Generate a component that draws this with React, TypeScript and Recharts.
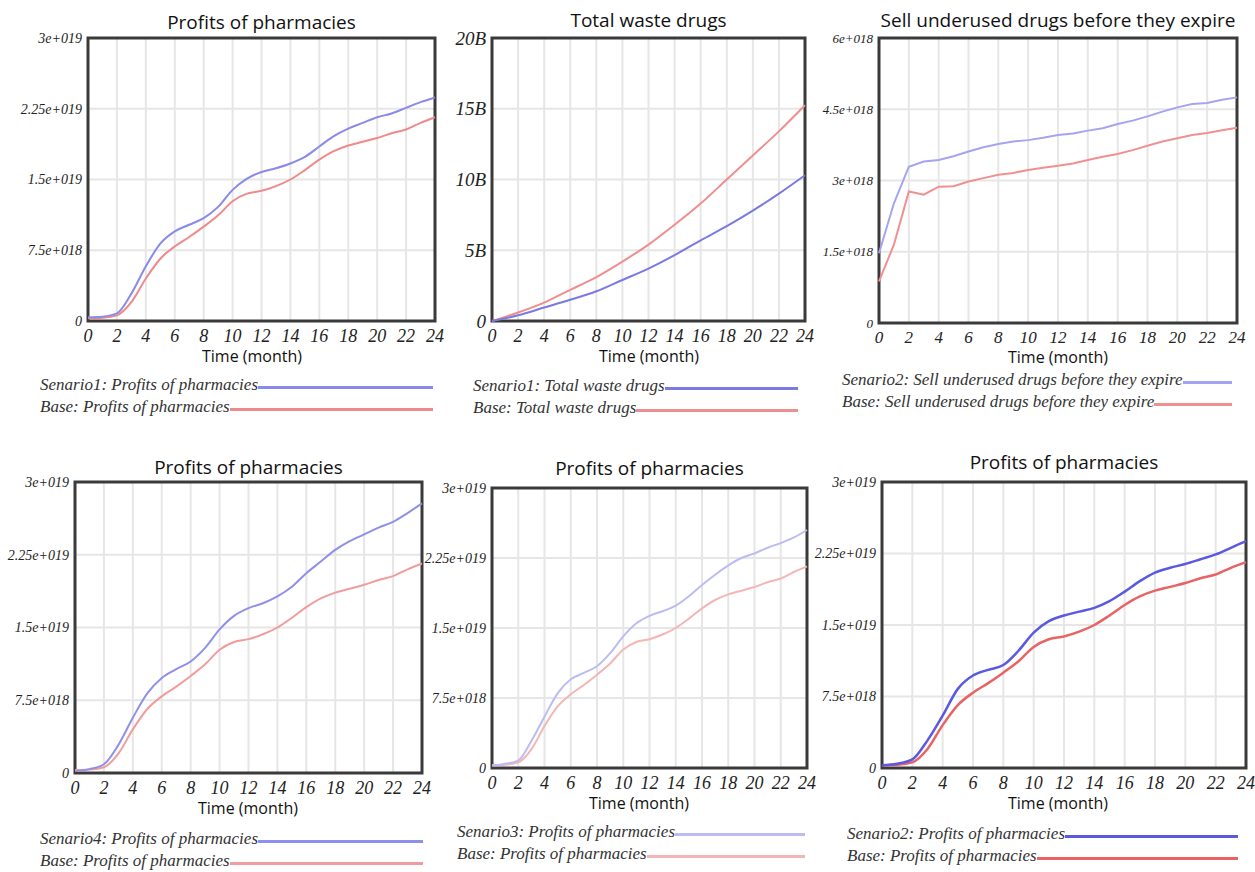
import React from "react"
import {
  LineChart,
  Line,
  XAxis,
  YAxis,
  CartesianGrid,
  ReferenceArea,
} from "recharts"

// time axis (months)
const months = [0, 1, 2, 3, 4, 5, 6, 7, 8, 9, 10, 11, 12, 13, 14, 15, 16, 17, 18, 19, 20, 21, 22, 23, 24]
const wasteMonths = [0, 2, 4, 6, 8, 10, 12, 14, 16, 18, 20, 22, 24]
const monthTicks = [0, 2, 4, 6, 8, 10, 12, 14, 16, 18, 20, 22, 24]

// profits of pharmacies, in units of 1e18
const baseProfits = [0.3, 0.35, 0.6, 2.0, 4.5, 6.6, 7.9, 8.9, 10.0, 11.2, 12.7, 13.5, 13.8, 14.3, 15.0, 16.0, 17.1, 18.0, 18.6, 19.0, 19.4, 19.9, 20.3, 21.0, 21.6]
const scenario1Profits = [0.4, 0.46, 0.8, 2.9, 5.8, 8.2, 9.5, 10.2, 10.9, 12.1, 13.9, 15.1, 15.8, 16.2, 16.7, 17.4, 18.5, 19.6, 20.4, 21.0, 21.6, 22.0, 22.6, 23.2, 23.7]
const scenario2Profits = [0.3, 0.45, 0.9, 2.9, 5.5, 8.3, 9.7, 10.3, 10.8, 12.3, 14.2, 15.4, 16.0, 16.4, 16.8, 17.5, 18.5, 19.6, 20.5, 21.0, 21.4, 21.9, 22.4, 23.1, 23.8]
const scenario3Profits = [0.25, 0.45, 0.8, 2.9, 5.5, 8.0, 9.5, 10.2, 10.9, 12.3, 14.1, 15.5, 16.3, 16.8, 17.4, 18.4, 19.6, 20.7, 21.7, 22.5, 23.0, 23.6, 24.1, 24.7, 25.5]
const scenario4Profits = [0.2, 0.4, 0.9, 2.9, 5.7, 8.2, 9.8, 10.7, 11.5, 12.9, 14.8, 16.2, 17.0, 17.5, 18.2, 19.2, 20.6, 21.8, 23.0, 23.9, 24.6, 25.3, 25.9, 26.8, 27.8]

// total waste drugs, in billions
const baseWaste = [0, 0.6, 1.3, 2.2, 3.1, 4.2, 5.4, 6.8, 8.3, 10.0, 11.7, 13.4, 15.25]
const scenario1Waste = [0, 0.4, 0.95, 1.5, 2.1, 2.9, 3.7, 4.65, 5.7, 6.7, 7.8, 9.0, 10.3]

// sell underused drugs before they expire, in units of 1e18
const baseSell = [0.875, 1.65, 2.77, 2.7, 2.87, 2.88, 2.98, 3.05, 3.12, 3.16, 3.22, 3.27, 3.31, 3.36, 3.43, 3.5, 3.56, 3.64, 3.73, 3.82, 3.89, 3.96, 4.0, 4.06, 4.11]
const scenario2Sell = [1.47, 2.52, 3.29, 3.4, 3.43, 3.51, 3.61, 3.7, 3.77, 3.82, 3.85, 3.9, 3.96, 3.99, 4.05, 4.1, 4.19, 4.26, 4.35, 4.45, 4.54, 4.61, 4.63, 4.7, 4.75]

const profitTicks = [0, 7.5, 15, 22.5, 30]
const wasteTicks = [0, 5, 10, 15, 20]
const sellTicks = [0, 1.5, 3, 4.5, 6]

const expFmt = (v: number) => {
  if (v === 0) return "0"
  return (v * 1e18).toExponential().replace(/e([+-])(\d+)$/, (_m, s, d) => `e${s}${d.padStart(3, "0")}`)
}
const billionFmt = (v: number) => (v === 0 ? "0" : `${v}B`)

const build = (xs: number[], a: number[], b: number[]) =>
  xs.map((t, i) => ({ t, scenario: a[i], base: b[i] }))

interface Panel {
  title: string
  data: { t: number; scenario: number; base: number }[]
  yTicks: number[]
  fmt: (v: number) => string
  scenarioName: string
  baseName: string
  blue: string
  red: string
  lineType: "monotone" | "linear"
  plot: { x0: number; y0: number; x1: number; y1: number }
  titleY: number
  timeX: number
  timeY: number
  legendX: number
  legendY: number
  legendEnd: number
  yFont: number
  xFont: number
  strokeW: number
}

const panels: Panel[] = [
  {
    title: "Profits of pharmacies",
    data: build(months, scenario1Profits, baseProfits),
    yTicks: profitTicks, fmt: expFmt,
    scenarioName: "Senario1: Profits of pharmacies", baseName: "Base: Profits of pharmacies",
    blue: "#8a8ae8", red: "#ee8a8a", lineType: "monotone",
    plot: { x0: 88, y0: 38, x1: 435, y1: 321 },
    titleY: 22, timeX: 252, timeY: 356,
    legendX: 40, legendY: 386, legendEnd: 433, yFont: 14, xFont: 18, strokeW: 2,
  },
  {
    title: "Total waste drugs",
    data: build(wasteMonths, scenario1Waste, baseWaste),
    yTicks: wasteTicks, fmt: billionFmt,
    scenarioName: "Senario1: Total waste drugs", baseName: "Base: Total waste drugs",
    blue: "#7a7ae2", red: "#ef8e8e", lineType: "monotone",
    plot: { x0: 492, y0: 38, x1: 805, y1: 321 },
    titleY: 20, timeX: 649, timeY: 356,
    legendX: 473, legendY: 387, legendEnd: 798, yFont: 19, xFont: 18, strokeW: 2,
  },
  {
    title: "Sell underused drugs before they expire",
    data: build(months, scenario2Sell, baseSell),
    yTicks: sellTicks, fmt: expFmt,
    scenarioName: "Senario2: Sell underused drugs before they expire", baseName: "Base: Sell underused drugs before they expire",
    blue: "#a4a4f0", red: "#f09090", lineType: "linear",
    plot: { x0: 879, y0: 38, x1: 1237, y1: 323 },
    titleY: 20, timeX: 1058, timeY: 357,
    legendX: 842, legendY: 381, legendEnd: 1232, yFont: 13, xFont: 17, strokeW: 2,
  },
  {
    title: "Profits of pharmacies",
    data: build(months, scenario4Profits, baseProfits),
    yTicks: profitTicks, fmt: expFmt,
    scenarioName: "Senario4: Profits of pharmacies", baseName: "Base: Profits of pharmacies",
    blue: "#9090ea", red: "#f09c9c", lineType: "monotone",
    plot: { x0: 75, y0: 482, x1: 422, y1: 773 },
    titleY: 467, timeX: 248, timeY: 808,
    legendX: 40, legendY: 840, legendEnd: 423, yFont: 14, xFont: 18, strokeW: 2,
  },
  {
    title: "Profits of pharmacies",
    data: build(months, scenario3Profits, baseProfits),
    yTicks: profitTicks, fmt: expFmt,
    scenarioName: "Senario3: Profits of pharmacies", baseName: "Base: Profits of pharmacies",
    blue: "#bcbcf2", red: "#f3b6b6", lineType: "monotone",
    plot: { x0: 492, y0: 488, x1: 807, y1: 768 },
    titleY: 468, timeX: 639, timeY: 803,
    legendX: 457, legendY: 833, legendEnd: 805, yFont: 14, xFont: 18, strokeW: 2,
  },
  {
    title: "Profits of pharmacies",
    data: build(months, scenario2Profits, baseProfits),
    yTicks: profitTicks, fmt: expFmt,
    scenarioName: "Senario2: Profits of pharmacies", baseName: "Base: Profits of pharmacies",
    blue: "#5a5ae0", red: "#e86464", lineType: "monotone",
    plot: { x0: 882, y0: 482, x1: 1246, y1: 768 },
    titleY: 462, timeX: 1058, timeY: 803,
    legendX: 847, legendY: 835, legendEnd: 1238, yFont: 14, xFont: 18, strokeW: 2.5,
  },
]

const SERIF = "'Liberation Serif', 'DejaVu Serif', serif"
const SANS = "'Open Sans', 'Noto Sans', sans-serif"
const Y_W = 80
const M_TOP = 10
const M_RIGHT = 14
const X_H = 30

function LegendRow({ label, color, y, x, end }: { label: string; color: string; y: number; x: number; end: number }) {
  return (
    <div style={{ position: "absolute", left: x, top: y - 12, width: end - x, height: 22, display: "flex", alignItems: "center" }}>
      <span style={{ fontFamily: SERIF, fontStyle: "italic", fontSize: 17, color: "#333", whiteSpace: "nowrap" }}>{label}</span>
      <div style={{ flex: 1, height: 3, background: color, marginTop: 4 }} />
    </div>
  )
}

function ChartPanel({ p }: { p: Panel }) {
  const { x0, y0, x1, y1 } = p.plot
  const width = x1 - x0 + Y_W + M_RIGHT
  const height = y1 - y0 + M_TOP + X_H
  const yMax = p.yTicks[p.yTicks.length - 1]
  return (
    <>
      {/* title */}
      <div
        style={{
          position: "absolute", left: (x0 + x1) / 2 - 250, width: 500, top: p.titleY - 14,
          textAlign: "center", fontFamily: SANS, fontSize: 19, color: "#111", lineHeight: "28px",
        }}
      >
        {p.title}
      </div>
      <div style={{ position: "absolute", left: x0 - Y_W, top: y0 - M_TOP }}>
        <LineChart width={width} height={height} data={p.data} margin={{ top: M_TOP, right: M_RIGHT, left: 0, bottom: 0 }}>
          <CartesianGrid stroke="#e6e6e6" strokeWidth={2} />
          <XAxis
            dataKey="t" type="number" domain={[0, 24]} ticks={monthTicks} height={X_H}
            axisLine={false} tickLine={false} tickSize={0} tickMargin={8} interval={0}
            tick={{ fontFamily: SERIF, fontStyle: "italic", fontSize: p.xFont, fill: "#222" }}
          />
          <YAxis
            type="number" domain={[0, yMax]} ticks={p.yTicks} width={Y_W} tickFormatter={p.fmt}
            axisLine={false} tickLine={false} tickSize={0} tickMargin={6} interval={0}
            tick={{ fontFamily: SERIF, fontStyle: "italic", fontSize: p.yFont, fill: "#222" }}
          />
          <Line type={p.lineType} dataKey="base" stroke={p.red} strokeWidth={p.strokeW} dot={false} isAnimationActive={false} />
          <Line type={p.lineType} dataKey="scenario" stroke={p.blue} strokeWidth={p.strokeW} dot={false} isAnimationActive={false} />
          {/* plot frame */}
          <ReferenceArea x1={0} x2={24} y1={0} y2={yMax} fill="none" stroke="#3a3a3a" strokeWidth={3} />
        </LineChart>
      </div>
      <div
        style={{
          position: "absolute", left: p.timeX - 100, width: 200, top: p.timeY - 11,
          textAlign: "center", fontFamily: SANS, fontSize: 16, color: "#111", lineHeight: "22px",
        }}
      >
        Time (month)
      </div>
      <LegendRow label={p.scenarioName} color={p.blue} x={p.legendX} y={p.legendY} end={p.legendEnd} />
      <LegendRow label={p.baseName} color={p.red} x={p.legendX} y={p.legendY + 22} end={p.legendEnd} />
    </>
  )
}

export default function App() {
  return (
    <div style={{ position: "absolute", left: 0, top: 0, width: 1255, height: 872, background: "#fff", overflow: "hidden" }}>
      {panels.map((p, i) => (
        <ChartPanel key={i} p={p} />
      ))}
    </div>
  )
}
